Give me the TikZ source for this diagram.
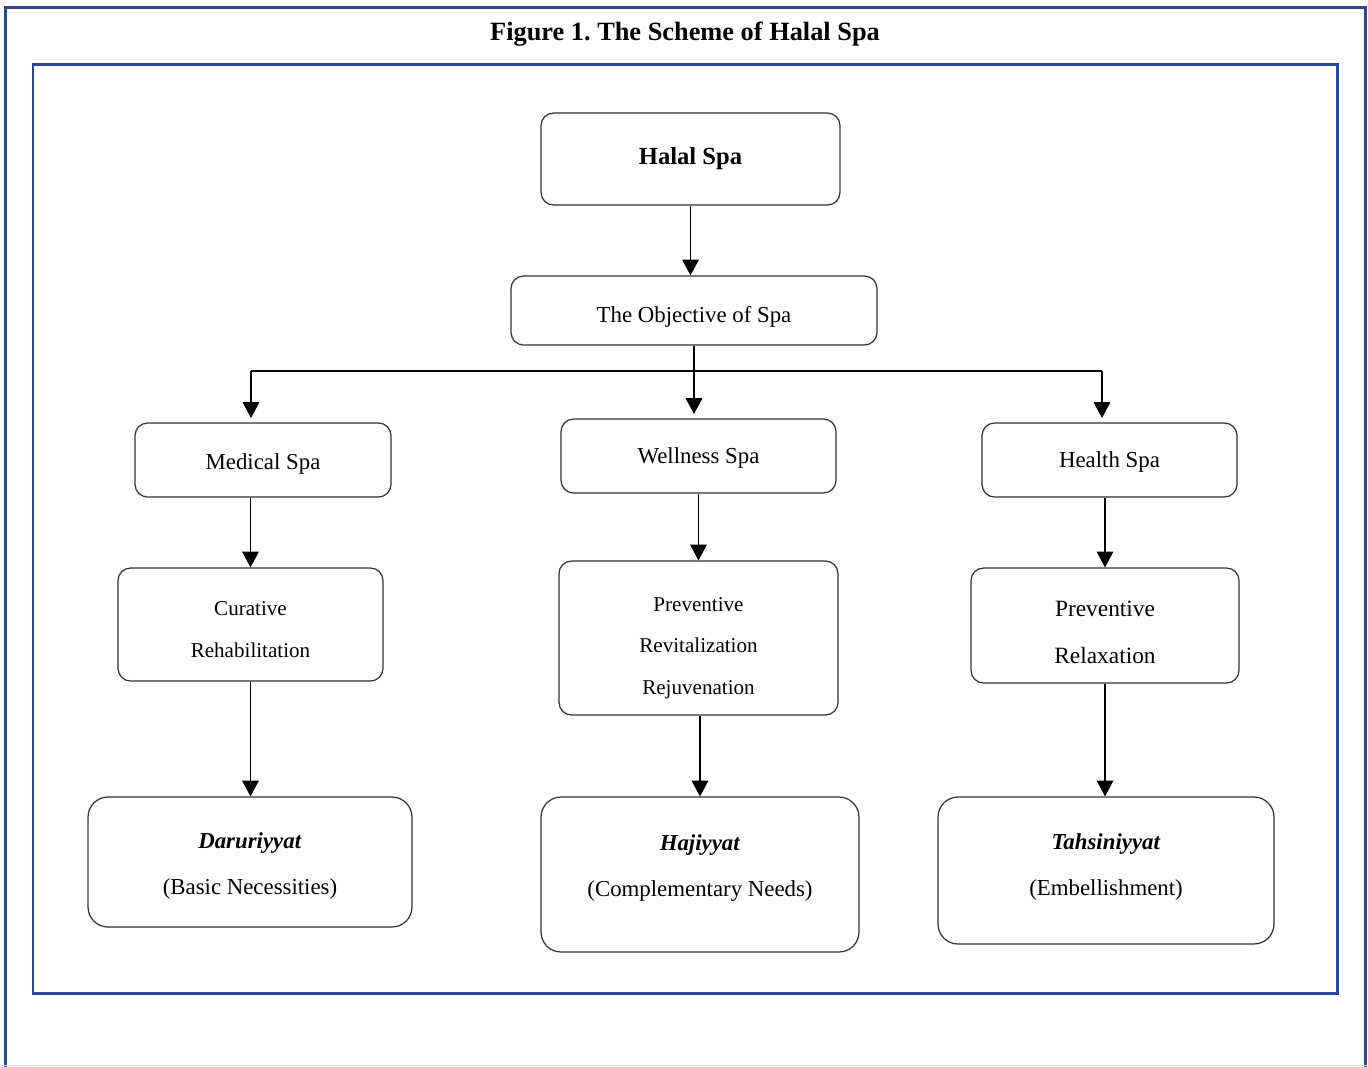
\documentclass[tikz,border=0pt]{standalone}
\usepackage{fontspec}
\setmainfont{Liberation Serif}
\usetikzlibrary{arrows.meta}
\definecolor{frameblue}{RGB}{44,70,152}
\tikzset{
  box/.style={draw=black!80, line width=0.7pt, rounded corners=0.25cm, align=center, inner sep=0pt, font=\boxfont},
  bigbox/.style={box, rounded corners=0.4cm},
  drop/.style={text height=#1, text depth=0pt},
  arr/.style={line width=0.6pt, -{Triangle[width=9.5pt,length=9pt]}},
  frame/.style={draw=frameblue, line width=1.7pt},
}
\newcommand{\boxfont}{\fontsize{13}{26.4}\selectfont}
\newcommand{\smallboxfont}{\fontsize{12}{23.8}\selectfont}

\begin{document}
\frenchspacing
\begin{tikzpicture}[x=0.02cm, y=-0.02cm]
    \useasboundingbox (0,0) rectangle (1368,1066);

    % Frames
    \draw[frame] (5.5,1080) -- (5.5,7.5) -- (1365,7.5) -- (1365,1080);
    \draw[frame] (33,64) rectangle (1337,993);
    \draw[black!12, line width=0.5pt] (0,1065.5) -- (1368,1065.5);

    % Title
    \node[anchor=base] (title) at (685,40) {\fontsize{15}{18}\selectfont\bfseries Figure 1.\ The Scheme of Halal Spa};

    % Top
    \node[box, drop=6.8pt, minimum width=5.98cm, minimum height=1.84cm, font=\fontsize{14}{17}\selectfont\bfseries] (halal) at (690.5,159) {Halal Spa};
    \node[box, drop=13.8pt, minimum width=7.32cm, minimum height=1.38cm] (objective) at (694,310.5) {The Objective of Spa};

    % Kinds of spa
    \node[box, drop=11.3pt, minimum width=5.12cm, minimum height=1.48cm] (medical) at (263,460) {Medical Spa};
    \node[box, drop=9pt, minimum width=5.5cm, minimum height=1.48cm] (wellness) at (698.5,456) {Wellness Spa};
    \node[box, drop=9pt, minimum width=5.1cm, minimum height=1.48cm] (health) at (1109.5,460) {Health Spa};

    % Functions
    \node[box, drop=37.4pt, minimum width=5.3cm, minimum height=2.26cm, font=\smallboxfont] (curative) at (250.5,624.5) {Curative\\ Rehabilitation};
    \node[box, drop=64.6pt, minimum width=5.58cm, minimum height=3.08cm, font=\smallboxfont] (preventive) at (698.5,638) {Preventive\\ Revitalization\\ Rejuvenation};
    \node[box, drop=42.9pt, minimum width=5.36cm, minimum height=2.3cm, font=\fontsize{13.3}{26.4}\selectfont] (relaxation) at (1105,625.5) {Preventive\\ Relaxation};

    % Maqasid levels
    \node[bigbox, drop=37.4pt, minimum width=6.48cm, minimum height=2.6cm] (daruriyyat) at (250,862) {\textbf{\textit{Daruriyyat}}\\ (Basic Necessities)};
    \node[bigbox, drop=25.5pt, minimum width=6.36cm, minimum height=3.1cm] (hajiyyat) at (700,874.5) {\textbf{\textit{Hajiyyat}}\\ (Complementary Needs)};
    \node[bigbox, drop=28.9pt, minimum width=6.72cm, minimum height=2.94cm] (tahsiniyyat) at (1106,870.5) {\textbf{\textit{Tahsiniyyat}}\\ (Embellishment)};

    % Arrows
    \coordinate (branchL) at (251,371);
    \coordinate (branchR) at (1102,371);
    \draw[arr] (halal.south) -- (halal.south |- objective.north);
    \draw[line width=1pt] (branchL) -- (branchR);
    \draw[arr, shorten >=2.5pt] (objective.south) -- (objective.south |- wellness.north);
    \draw[arr, shorten >=2.5pt] (branchL) -- (branchL |- medical.north);
    \draw[arr, shorten >=2.5pt] (branchR) -- (branchR |- health.north);
    \draw[arr] (curative.north |- medical.south) -- (curative.north);
    \draw[arr] (wellness.south) -- (wellness.south |- preventive.north);
    \draw[arr] (relaxation.north |- health.south) -- (relaxation.north);
    \draw[arr] (curative.south) -- (curative.south |- daruriyyat.north);
    \draw[arr] (hajiyyat.north |- preventive.south) -- (hajiyyat.north);
    \draw[arr] (relaxation.south) -- (relaxation.south |- tahsiniyyat.north);
\end{tikzpicture}
\end{document}
